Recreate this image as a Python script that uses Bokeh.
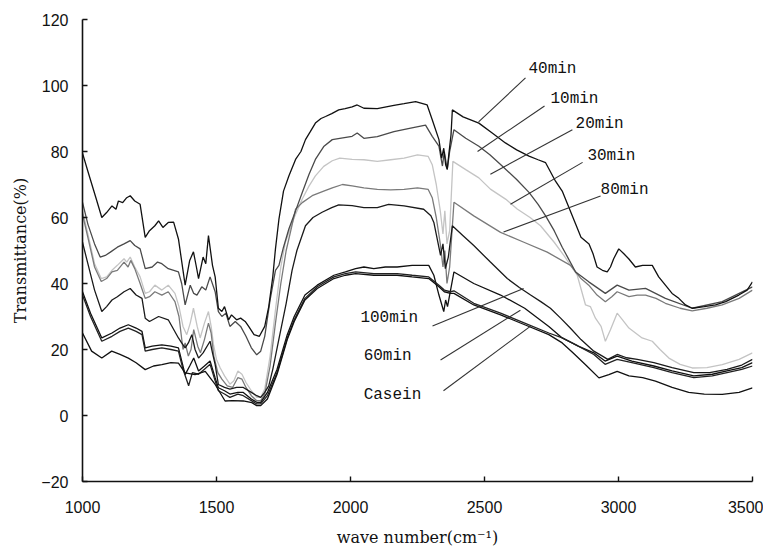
from bokeh.plotting import figure
from bokeh.models import Range1d, FixedTicker, ColumnDataSource
from bokeh.core.properties import value
from bokeh.embed import file_html
from bokeh.resources import INLINE

# ---------------- data ----------------
x_tick_values = [1000, 1500, 2000, 2500, 3000, 3500]
y_tick_values = [-20, 0, 20, 40, 60, 80, 100, 120]

x_40min = [1000, 1020, 1050, 1072, 1090, 1110, 1125, 1134, 1150, 1165, 1178, 1195, 1215, 1234, 1250, 1270, 1284, 1300, 1320, 1340, 1358, 1383, 1400, 1414, 1425, 1433, 1450, 1460, 1470, 1485, 1495, 1507, 1520, 1530, 1545, 1556, 1575, 1590, 1607, 1620, 1640, 1660, 1680, 1695, 1710, 1720, 1733, 1750, 1770, 1795, 1815, 1832, 1850, 1869, 1890, 1907, 1930, 1956, 1980, 2006, 2025, 2050, 2100, 2162, 2200, 2243, 2286, 2305, 2330, 2340, 2348, 2355, 2361, 2368, 2375, 2380, 2420, 2479, 2530, 2578, 2620, 2666, 2700, 2728, 2765, 2790, 2815, 2840, 2860, 2890, 2905, 2920, 2940, 2958, 2970, 2982, 3001, 3020, 3038, 3063, 3090, 3126, 3150, 3175, 3200, 3225, 3250, 3275, 3320, 3362, 3400, 3449, 3480, 3500]
y_40min = [79.5, 74, 66, 60, 61.5, 63.5, 62.5, 65, 64.5, 66, 66.6, 65, 64, 54, 56, 57.5, 59, 57, 58.5, 58.6, 53.5, 39.5, 47, 49.6, 45, 41.5, 48, 46, 54.5, 45.5, 42, 32.5, 31.5, 33, 29, 30.5, 29, 29.5, 28.5, 27, 24.5, 24, 27, 33, 42, 50.5, 59.5, 68, 72.6, 77.6, 80, 83.6, 86, 88.6, 90, 90.6, 91.5, 92.6, 93, 93.5, 94.1, 93.1, 93, 94, 94.5, 95.1, 94.1, 89.6, 83.6, 78, 81, 76, 74.6, 80, 85, 92.6, 90.5, 88.6, 85.5, 82.6, 80.5, 78.6, 77.5, 76.6, 71, 68, 63, 58, 54, 52, 49, 45, 44, 43.5, 45, 47.5, 50.5, 49, 47.5, 45, 45.5, 45.5, 42, 39.5, 37, 35.5, 33.5, 32.5, 33, 33.5, 34.5, 36.5, 38, 40.5]

x_10min = [1000, 1020, 1045, 1066, 1085, 1104, 1130, 1155, 1178, 1195, 1215, 1234, 1260, 1280, 1296, 1320, 1358, 1370, 1383, 1402, 1415, 1427, 1445, 1460, 1476, 1495, 1507, 1520, 1535, 1550, 1570, 1590, 1610, 1630, 1650, 1665, 1680, 1700, 1720, 1733, 1750, 1770, 1795, 1820, 1845, 1869, 1900, 1932, 1960, 2006, 2025, 2050, 2100, 2162, 2220, 2280, 2305, 2330, 2343, 2350, 2361, 2370, 2386, 2430, 2479, 2520, 2566, 2620, 2666, 2700, 2728, 2760, 2790, 2810, 2840, 2889, 2951, 2995, 3039, 3101, 3175, 3275, 3387, 3500]
y_10min = [64.6, 58, 52, 48, 48.5, 49.5, 51, 52, 53, 51.5, 50.5, 44.5, 45, 46.5, 46, 44.5, 43.5, 40, 33.5, 39.5, 37, 36.5, 39, 38, 42, 37.5, 31.5, 30, 31, 27, 28.5, 27, 24, 20.5, 18.4, 19.5, 24, 35, 44, 45.5, 51, 56.5, 62, 67.6, 73, 77.6, 81.5, 83.6, 84, 84.6, 85.6, 84, 84.5, 86, 87, 88, 84.6, 81.6, 75.6, 80, 74.6, 80, 86.6, 84, 81.6, 79, 75.6, 71.5, 67.6, 64, 60.5, 56, 51, 48, 43.5, 40.5, 37, 39.5, 38, 38.5, 35.5, 32.5, 34.5, 39]

x_20min = [1000, 1020, 1045, 1070, 1090, 1110, 1130, 1155, 1165, 1178, 1195, 1215, 1234, 1250, 1270, 1296, 1320, 1345, 1360, 1375, 1389, 1402, 1414, 1428, 1439, 1455, 1470, 1480, 1489, 1500, 1514, 1530, 1550, 1565, 1580, 1595, 1610, 1630, 1650, 1665, 1680, 1700, 1720, 1740, 1757, 1790, 1820, 1845, 1869, 1900, 1932, 1960, 2006, 2050, 2100, 2150, 2200, 2250, 2290, 2305, 2320, 2335, 2345, 2352, 2360, 2370, 2382, 2430, 2479, 2522, 2580, 2622, 2670, 2709, 2760, 2796, 2846, 2877, 2895, 2914, 2935, 2951, 2970, 2995, 3015, 3039, 3088, 3126, 3155, 3188, 3230, 3275, 3330, 3387, 3450, 3500]
y_20min = [62, 55, 46, 41.5, 42, 44, 45.5, 47.5, 46.5, 48, 45, 42, 37, 37.5, 39.5, 38, 39.5, 37, 33, 27, 24.5, 28, 32.5, 27, 23.5, 28, 31.5, 27, 21.4, 17, 14.4, 12, 9.5, 10.5, 13.5, 12.5, 10, 7.5, 5.5, 5.5, 8, 18, 32, 45, 52.5, 60, 65.6, 69.5, 72.6, 75.5, 77.2, 78, 77.6, 77.5, 77, 77.5, 78, 79, 78.5, 76, 70, 62, 55, 62, 52, 56, 77, 74.5, 72, 68.6, 65.5, 62.6, 60, 57.5, 52.5, 48.5, 42.5, 33.5, 33, 29.5, 27, 22.5, 26, 31, 29, 26.5, 23.5, 22.5, 20, 17.4, 15.5, 14.4, 14.5, 15.4, 17, 19]

x_30min = [1000, 1020, 1045, 1070, 1090, 1110, 1130, 1155, 1170, 1180, 1195, 1215, 1234, 1250, 1270, 1296, 1320, 1345, 1360, 1375, 1383, 1395, 1405, 1415, 1430, 1440, 1455, 1470, 1480, 1490, 1505, 1520, 1540, 1560, 1580, 1595, 1610, 1630, 1650, 1665, 1680, 1700, 1720, 1740, 1760, 1780, 1795, 1820, 1857, 1900, 1932, 1970, 2006, 2050, 2100, 2150, 2200, 2250, 2290, 2305, 2320, 2335, 2345, 2352, 2360, 2370, 2386, 2460, 2560, 2647, 2734, 2821, 2860, 2889, 2920, 2951, 2975, 2995, 3039, 3070, 3101, 3140, 3175, 3230, 3275, 3330, 3387, 3450, 3500]
y_30min = [61, 54, 45, 40.6, 41.5, 43.5, 44, 46.5, 45, 47, 44.5, 40, 35.5, 36, 37.5, 36.5, 37.5, 34.5, 30, 20, 22, 18, 20, 26, 21, 19, 23, 28, 25, 18, 13, 11, 9, 8.5, 11.5, 11, 8.5, 6, 4.5, 4.5, 6.5, 15, 28, 40, 50, 57, 62.5, 64.5, 66.6, 68, 69, 70, 69.6, 69, 68.5, 68.4, 68.5, 69, 68.5, 66, 60, 52, 45, 50, 40, 45, 64.6, 60.5, 55.5, 52.5, 49.5, 45.5, 41.5, 39.5, 36.5, 34.5, 36, 37.5, 36, 36.5, 36.5, 35.5, 34, 32.5, 31.7, 32.5, 33.5, 35.5, 38]

x_80min = [1000, 1020, 1045, 1072, 1090, 1110, 1130, 1155, 1178, 1200, 1222, 1234, 1250, 1284, 1320, 1358, 1370, 1383, 1395, 1408, 1420, 1433, 1450, 1476, 1485, 1495, 1507, 1530, 1550, 1575, 1600, 1630, 1650, 1665, 1680, 1695, 1710, 1730, 1760, 1782, 1800, 1832, 1860, 1894, 1930, 1956, 2006, 2050, 2100, 2142, 2200, 2273, 2300, 2311, 2336, 2345, 2354, 2365, 2380, 2420, 2460, 2522, 2585, 2630, 2672, 2710, 2746, 2784, 2820, 2860, 2908, 2940, 2960, 2995, 3030, 3070, 3132, 3200, 3281, 3340, 3405, 3460, 3500]
y_80min = [52.5, 46, 38, 31.5, 33, 35, 36, 37.5, 38.5, 36.5, 35.5, 29.5, 28.5, 30, 29, 23.5, 22, 20.5, 22, 24.5, 20, 17.4, 19, 22.5, 19, 15.4, 9.4, 8.5, 8, 8.5, 8.5, 7, 6, 5.5, 7, 9, 14, 22, 34, 44, 50, 57.5, 60, 61.6, 63, 63.8, 63.6, 63, 63, 64, 63.5, 62.5, 60.5, 58.5, 48.5, 52, 44.5, 48, 57.5, 54.5, 51.5, 46.5, 41.5, 38.8, 36.5, 34.5, 32.5, 29.5, 26.5, 23, 19.5, 18, 17, 18.5, 17.5, 17, 16, 14.5, 13, 13, 14, 15.3, 17]

x_100min = [1000, 1030, 1072, 1110, 1140, 1171, 1200, 1222, 1234, 1260, 1296, 1330, 1358, 1383, 1400, 1415, 1433, 1455, 1476, 1495, 1507, 1530, 1550, 1580, 1600, 1630, 1650, 1665, 1690, 1726, 1764, 1790, 1830, 1876, 1938, 1981, 2019, 2050, 2087, 2130, 2174, 2230, 2292, 2311, 2330, 2348, 2355, 2362, 2386, 2460, 2560, 2650, 2740, 2790, 2850, 2908, 2950, 2995, 3050, 3132, 3200, 3281, 3350, 3405, 3460, 3500]
y_100min = [37.5, 31, 23.5, 25, 26.5, 27.5, 26.5, 25.5, 20.5, 21, 21.4, 21, 20.5, 12.4, 15, 17.4, 13.5, 15, 16.5, 11.4, 8.4, 7.5, 6.5, 7, 7, 5, 4, 4, 7, 14, 24.5, 30, 36.5, 39.5, 42.5, 43.5, 44.5, 45, 44.5, 45, 45, 45.5, 45.5, 42.5, 36.5, 31.5, 35, 33, 43.5, 40, 36.5, 32.5, 27, 23.5, 21, 19, 16.5, 18, 16.5, 15, 13.5, 12, 12.5, 13.5, 14.5, 16]

x_60min = [1000, 1030, 1072, 1110, 1140, 1171, 1200, 1222, 1234, 1260, 1296, 1330, 1358, 1375, 1396, 1410, 1433, 1455, 1476, 1495, 1507, 1530, 1550, 1580, 1600, 1630, 1650, 1665, 1690, 1726, 1764, 1790, 1830, 1876, 1938, 1981, 2019, 2087, 2174, 2230, 2292, 2330, 2350, 2373, 2386, 2460, 2560, 2650, 2740, 2790, 2850, 2908, 2950, 2995, 3050, 3132, 3200, 3281, 3350, 3405, 3460, 3500]
y_60min = [36.5, 30, 22.5, 24, 25.5, 26.5, 25.5, 24.5, 19.5, 20, 20.5, 20, 19.5, 14, 9, 13, 12.5, 14, 15.5, 10.5, 7.5, 6.5, 5.5, 6.5, 6, 4.5, 3.5, 3.5, 6, 13, 23.5, 29, 35.5, 39, 42, 43, 43.5, 43, 43, 42.5, 42, 39.5, 38, 37.5, 37.8, 34, 31, 28, 25, 23.5, 21, 18.5, 15.5, 17, 16, 14.5, 13, 11.5, 12, 13, 14, 15]

x_casein = [1000, 1034, 1072, 1109, 1140, 1171, 1200, 1234, 1265, 1296, 1330, 1358, 1383, 1420, 1458, 1495, 1532, 1560, 1600, 1632, 1650, 1665, 1690, 1726, 1764, 1790, 1830, 1876, 1938, 1981, 2019, 2087, 2174, 2230, 2292, 2330, 2350, 2373, 2386, 2460, 2560, 2650, 2740, 2790, 2830, 2877, 2927, 2964, 2995, 3039, 3090, 3138, 3200, 3262, 3320, 3387, 3450, 3500]
y_casein = [25, 19.5, 17.4, 19.5, 18.5, 17.4, 16, 13.9, 15, 15.4, 16, 15.9, 12.9, 12.4, 13.4, 9.4, 4.4, 4.5, 4.4, 3.9, 3, 3, 5, 12.5, 23, 28.5, 35, 38.5, 41.5, 42.5, 43, 42.5, 42.5, 42, 41.5, 39, 37.5, 37, 37, 33.5, 30.5, 27.5, 24.5, 22, 19, 15.4, 11.4, 12.4, 13.4, 12, 11.5, 10.4, 8.5, 7, 6.5, 6.4, 7, 8.4]

series_names = ["20min", "30min", "10min", "40min", "80min", "100min", "60min", "Casein"]
series_x = [x_20min, x_30min, x_10min, x_40min, x_80min, x_100min, x_60min, x_casein]
series_y = [y_20min, y_30min, y_10min, y_40min, y_80min, y_100min, y_60min, y_casein]
series_colors = ["#c4c4c4", "#7a7a7a", "#4a4a4a", "#111111", "#1a1a1a", "#111111", "#222222", "#111111"]

# label annotations: text, text anchor (x, y), leader line start and end
label_text = ["40min", "10min", "20min", "30min", "80min", "100min", "60min", "Casein"]
label_x = [2664, 2746, 2840, 2884, 2933, 2037, 2049, 2049]
label_y = [105.0, 95.9, 88.4, 78.5, 68.3, 29.5, 18.0, 6.3]
lead_x0 = [2653, 2724, 2828, 2866, 2933, 2306, 2336, 2347]
lead_y0 = [102.3, 93.8, 86.6, 76.7, 66.5, 27.1, 16.8, 7.5]
lead_x1 = [2478, 2474, 2522, 2597, 2571, 2646, 2634, 2672]
lead_y1 = [89.0, 80.0, 73.1, 64.0, 55.6, 38.5, 31.9, 27.1]

# ---------------- figure ----------------
p = figure(width=763, height=549, output_backend="svg", toolbar_location=None,
           x_range=Range1d(1000, 3500), y_range=Range1d(-20, 120),
           min_border_left=82, min_border_right=11, min_border_top=19, min_border_bottom=67)
p.outline_line_color = None
p.grid.visible = False
p.background_fill_color = "white"
p.border_fill_color = "white"

for ax in (p.xaxis[0], p.yaxis[0]):
    ax.axis_line_color = "#111111"
    ax.axis_line_width = 1.6
    ax.major_tick_line_color = "#111111"
    ax.major_tick_line_width = 1.4
    ax.major_tick_in = 5
    ax.major_tick_out = 0
    ax.minor_tick_line_color = None
    ax.major_label_text_font = "Liberation Sans"
    ax.major_label_text_font_size = "16px"
    ax.major_label_text_color = "#111111"
    ax.axis_label_text_font = "DejaVu Serif"
    ax.axis_label_text_font_style = "normal"
    ax.axis_label_text_color = "#111111"

p.xaxis[0].ticker = FixedTicker(ticks=x_tick_values)
p.yaxis[0].ticker = FixedTicker(ticks=y_tick_values)
p.xaxis[0].major_label_standoff = 19
p.yaxis[0].major_label_standoff = 14
p.xaxis[0].axis_label = "wave number(cm\u207b\u00b9)"
p.yaxis[0].axis_label = "Transmittance(%)"
p.xaxis[0].axis_label_text_font_size = "16px"
p.yaxis[0].axis_label_text_font_size = "16px"
p.xaxis[0].axis_label_standoff = 12
p.yaxis[0].axis_label_standoff = 8

for xs, ys, c in zip(series_x, series_y, series_colors):
    p.line(xs, ys, line_color=c, line_width=1.3)

lead_src = ColumnDataSource(dict(x0=lead_x0, y0=lead_y0, x1=lead_x1, y1=lead_y1))
p.segment(x0="x0", y0="y0", x1="x1", y1="y1", source=lead_src,
          line_color="#333333", line_width=1.1)

p.text(x=label_x, y=label_y, text=label_text, text_font=value("Liberation Mono"),
       text_font_size="16px", text_baseline="middle", text_align="left",
       text_color="#111111")

open("out.html", "w").write(file_html(p, INLINE))
